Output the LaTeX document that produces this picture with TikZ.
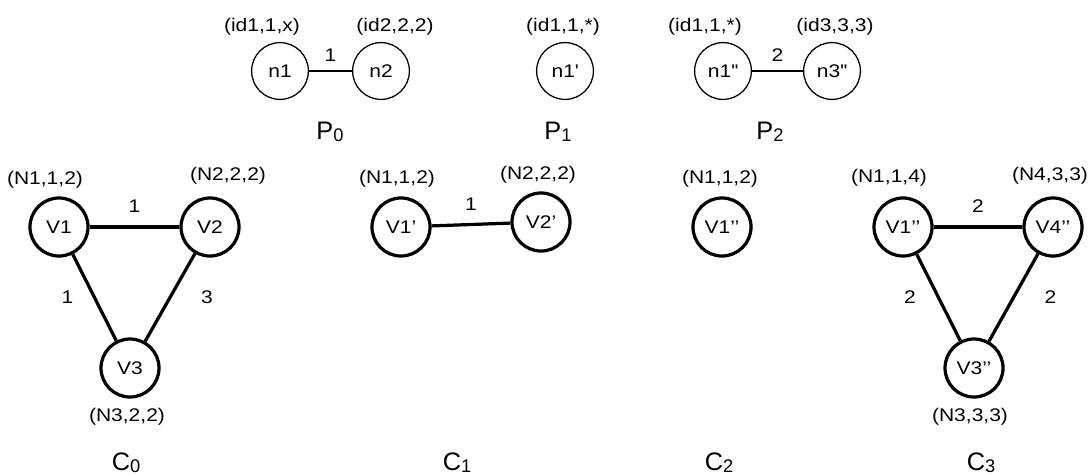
\documentclass[tikz,border=0pt]{standalone}
\usepackage{fontspec}
\setmainfont{Liberation Sans}
\newfontfamily\widefont[FakeStretch=1.15]{Liberation Sans}
\usepackage{tikz}
\usetikzlibrary{positioning}

\newcommand{\lblfont}{\widefont\fontsize{13}{15}\selectfont}
\newcommand{\subidx}[1]{\raisebox{-0.15ex}{\fontsize{13}{13}\selectfont #1}}

\begin{document}
\begin{tikzpicture}[x=0.025cm, y=-0.025cm,
    pnode/.style={circle, draw, line width=0.9pt, minimum size=1.42cm, inner sep=0pt, font=\lblfont},
    cnode/.style={circle, draw, line width=2.3pt, minimum size=1.45cm, inner sep=0pt, font=\lblfont},
    tag/.style={inner sep=0pt, font=\lblfont},
    edge label/.style={inner sep=1pt, font=\lblfont},
    title/.style={anchor=base, font=\fontsize{18}{18}\selectfont},
    pedge/.style={line width=0.9pt},
    cedge/.style={line width=2.3pt},
  ]
  \useasboundingbox (0,0) rectangle (1089,474);

  % patterns
  \node[pnode] (n1)   at (280,71) {n1};
  \node[pnode] (n2)   at (381,71) {n2};
  \node[pnode] (n1p)  at (565,71) {n1\textquotesingle};
  \node[pnode] (n1pp) at (723,71) {n1\textquotesingle\textquotesingle};
  \node[pnode] (n3pp) at (832,71) {n3\textquotesingle\textquotesingle};

  \node[tag] (tn1)   at (262,27) {(id1,1,x)};
  \node[tag] (tn2)   at (395,27) {(id2,2,2)};
  \node[tag] (tn1p)  at (563,27) {(id1,1,*)};
  \node[tag] (tn1pp) at (705,27) {(id1,1,*)};
  \node[tag] (tn3pp) at (835,27) {(id3,3,3)};

  \draw[pedge] (n1) -- node[edge label, above=5pt] {1} (n2);
  \draw[pedge] (n1pp) -- node[edge label, above=5pt] {2} (n3pp);

  \node[title] (P0) at (330,139) {P\subidx{0}};
  \node[title] (P1) at (558,139) {P\subidx{1}};
  \node[title] (P2) at (770,139) {P\subidx{2}};

  % C0
  \node[cnode] (V1) at (59,227)  {V1};
  \node[cnode] (V2) at (210,227) {V2};
  \node[cnode] (V3) at (130,368) {V3};
  \node[tag] (tV1) at (45,180)  {(N1,1,2)};
  \node[tag] (tV2) at (228,176) {(N2,2,2)};
  \node[tag] (tV3) at (127,417) {(N3,2,2)};
  \draw[cedge] (V1) -- node[edge label, above=8pt] {1} (V2);
  \draw[cedge] (V1) -- node[edge label, left=13pt] {1} (V3);
  \draw[cedge] (V2) -- node[edge label, right=20pt] {3} (V3);
  \node[title] (C0) at (126,470) {C\subidx{0}};

  % C1
  \node[cnode] (V1a) at (401,227) {V1’};
  \node[cnode] (V2a) at (541,222) {V2’};
  \node[tag] (tV1a) at (397,179) {(N1,1,2)};
  \node[tag] (tV2a) at (538,175) {(N2,2,2)};
  \draw[cedge] (V1a) -- node[edge label, above=8pt] {1} (V2a);
  \node[title] (C1) at (457,470) {C\subidx{1}};

  % C2
  \node[cnode] (V1b) at (722,227) {V1’’};
  \node[tag] (tV1b) at (720,179) {(N1,1,2)};
  \node[title] (C2) at (719,470) {C\subidx{2}};

  % C3
  \node[cnode] (W1) at (903,227)  {V1’’};
  \node[cnode] (W4) at (1053,227) {V4’’};
  \node[cnode] (W3) at (974,368)  {V3’’};
  \node[tag] (tW1) at (889,178)  {(N1,1,4)};
  \node[tag] (tW4) at (1050,176) {(N4,3,3)};
  \node[tag] (tW3) at (970,417)  {(N3,3,3)};
  \draw[cedge] (W1) -- node[edge label, above=8pt] {2} (W4);
  \draw[cedge] (W1) -- node[edge label, left=14pt] {2} (W3);
  \draw[cedge] (W4) -- node[edge label, right=20pt] {2} (W3);
  \node[title] (C3) at (981,470) {C\subidx{3}};
\end{tikzpicture}
\end{document}
